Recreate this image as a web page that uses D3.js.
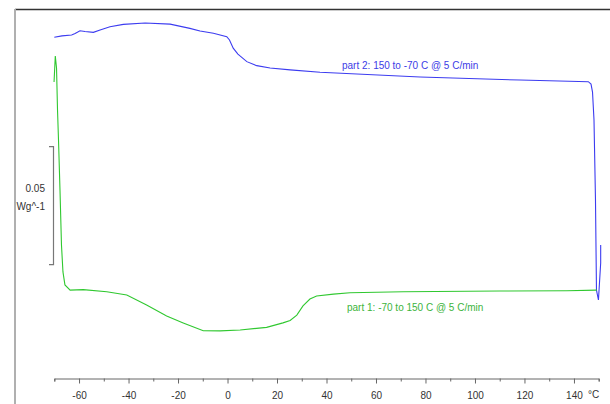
<!DOCTYPE html>
<html>
<head>
<meta charset="utf-8">
<script src="https://cdn.jsdelivr.net/npm/d3@7"></script>
<style>
  body { margin: 0; background: #fff; }
  svg text { font-family: "Liberation Sans", Arial, sans-serif; font-size: 10px; }
</style>
</head>
<body>
<script>
// temperatures (C) and heat flow (W/g)
var coolT = [150.8, 150.8, 149.9, 149.1, 148.7, 148.1, 147.5, 146.9, 145.8, 118.2, 77.8, 37.4, 25.3, 17.2, 11.8, 7.8, 4.2, 2.3, 0.8, -0.3, -5.7, -11.1, -15.2, -23.2, -33.3, -42.1, -47.5, -51.5, -54.2, -57.6, -59.6, -61.6, -63.0, -66.9, -70.0];
var coolHF = [0.0233, 0.0157, 0.0, 0.0042, 0.0424, 0.0763, 0.0881, 0.0915, 0.0925, 0.0932, 0.0945, 0.0965, 0.0975, 0.0983, 0.0993, 0.1010, 0.1042, 0.1067, 0.1102, 0.1116, 0.1130, 0.1140, 0.1151, 0.1169, 0.1174, 0.1168, 0.1158, 0.1144, 0.1134, 0.1138, 0.1141, 0.1129, 0.1123, 0.1119, 0.1113];

var heatT = [-70.1, -69.6, -69.1, -68.7, -68.3, -67.7, -67.1, -66.5, -65.7, -63.6, -58.3, -48.8, -40.7, -32.7, -24.6, -17.9, -9.8, -3.0, 5.1, 15.8, 22.4, 25.3, 28.0, 30.5, 33.3, 36.0, 42.8, 49.5, 71.0, 110.1, 137.1, 149.2];
var heatHF = [0.0924, 0.1034, 0.0983, 0.0805, 0.0678, 0.0466, 0.0233, 0.0119, 0.0064, 0.0042, 0.0044, 0.0035, 0.0021, -0.0021, -0.0068, -0.0097, -0.0130, -0.0131, -0.0127, -0.0116, -0.0097, -0.0087, -0.0064, -0.0025, 0.0004, 0.0017, 0.0025, 0.0031, 0.0035, 0.0038, 0.0039, 0.0042];

var majorTicks = [-60, -40, -20, 0, 20, 40, 60, 80, 100, 120, 140];
var minorTicks = [-70, -50, -30, -10, 10, 30, 50, 70, 90, 110, 130, 150];
var scaleBar = [0.015, 0.065];   // 0.05 W/g
var labels = ["part 2: 150 to -70 C @ 5 C/min", "part 1: -70 to 150 C @ 5 C/min"];

var W = 610, H = 404;
var svg = d3.select("body").append("svg")
    .attr("width", W)
    .attr("height", H);

var x = d3.scaleLinear().domain([-70, 150]).range([54.3, 598.7]);
var y = d3.scaleLinear().domain([0, 0.05]).range([300, 182]);

// frame
svg.append("line").attr("x1", 15).attr("x2", W).attr("y1", 9.5).attr("y2", 9.5)
   .attr("stroke", "#333").attr("stroke-width", 1.5);
svg.append("line").attr("x1", 15).attr("x2", 15).attr("y1", 9).attr("y2", H)
   .attr("stroke", "#b0b0b0").attr("stroke-width", 2);

// x axis
var axisY = 378.5;
var gMinor = svg.append("g")
   .attr("transform", "translate(0," + axisY + ")")
   .call(d3.axisBottom(x).tickValues(minorTicks).tickSize(3).tickFormat(""));
gMinor.select(".domain").remove();
var gx = svg.append("g")
   .attr("transform", "translate(0," + axisY + ")")
   .call(d3.axisBottom(x).tickValues(majorTicks).tickSize(5).tickSizeOuter(3)
         .tickPadding(8).tickFormat(d => String(d)));
svg.selectAll(".tick line, .domain").attr("stroke", "#666");
gx.selectAll("text").attr("fill", "#333").style("font-size", "10px")
  .style("font-family", "'Liberation Sans', Arial, sans-serif");
svg.append("text").attr("x", 588).attr("y", 398).attr("fill", "#333").text("\u00b0C");

// scale bar
var sb = d3.path();
sb.moveTo(49, y(scaleBar[1])); sb.lineTo(53.5, y(scaleBar[1]));
sb.lineTo(53.5, y(scaleBar[0])); sb.lineTo(49, y(scaleBar[0]));
svg.append("path").attr("d", sb.toString()).attr("fill", "none")
   .attr("stroke", "#777").attr("stroke-width", 1.2);
svg.append("text").attr("x", 45).attr("y", 192).attr("text-anchor", "end")
   .attr("fill", "#333").text("0.05");
svg.append("text").attr("x", 45).attr("y", 210).attr("text-anchor", "end")
   .attr("fill", "#333").text("Wg^-1");

// curves
var line = d3.line().x(d => x(d[0])).y(d => y(d[1]));
svg.append("path")
   .datum(coolT.map((t, i) => [t, coolHF[i]]))
   .attr("d", line).attr("fill", "none")
   .attr("stroke", "#3c3cf0").attr("stroke-width", 1.1);
svg.append("path")
   .datum(heatT.map((t, i) => [t, heatHF[i]]))
   .attr("d", line).attr("fill", "none")
   .attr("stroke", "#30c830").attr("stroke-width", 1.1);

svg.append("text").attr("x", 342).attr("y", 69).attr("fill", "#3c3ce6").text(labels[0]);
svg.append("text").attr("x", 347).attr("y", 311).attr("fill", "#3cb43c").text(labels[1]);
</script>
</body>
</html>
